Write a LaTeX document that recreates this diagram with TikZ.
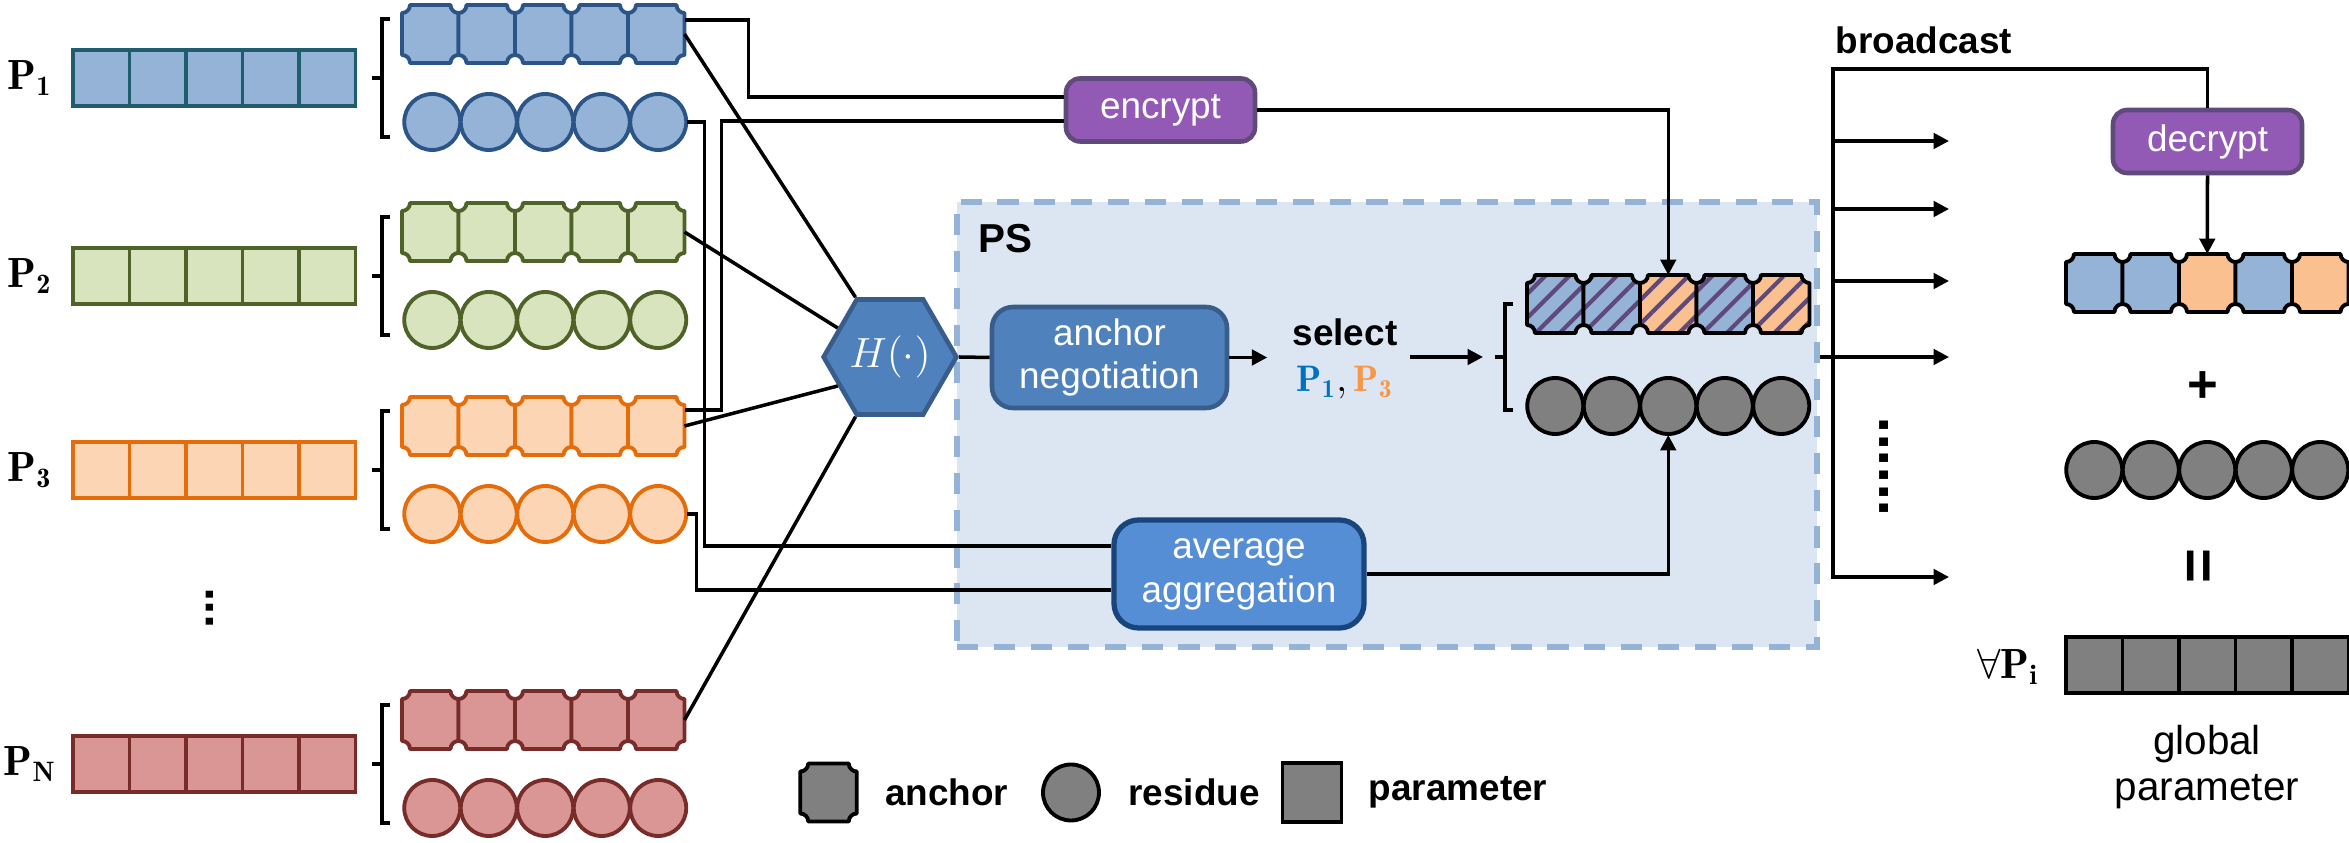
\documentclass[tikz,border=0pt]{standalone}
\usepackage{fontspec}
\setsansfont{Liberation Sans}
\renewcommand{\familydefault}{\sfdefault}
\usetikzlibrary{arrows.meta,shapes.geometric,patterns.meta,positioning}

\definecolor{blueF}{HTML}{95B3D7}
\definecolor{blueD}{HTML}{2B5487}
\definecolor{barD}{HTML}{1F5C6E}
\definecolor{greenF}{HTML}{D7E4BD}
\definecolor{greenD}{HTML}{4F6228}
\definecolor{orangeF}{HTML}{FCD5B5}
\definecolor{orangeD}{HTML}{E46C0A}
\definecolor{orangeR}{HTML}{FAC090}
\definecolor{redF}{HTML}{D99694}
\definecolor{redD}{HTML}{772C2A}
\definecolor{grayF}{HTML}{808080}
\definecolor{purpleF}{HTML}{935AB5}
\definecolor{purpleD}{HTML}{604A7B}
\definecolor{hatchC}{HTML}{5F497A}
\definecolor{negF}{HTML}{4F81BD}
\definecolor{negD}{HTML}{385D8A}
\definecolor{avgF}{HTML}{558ED5}
\definecolor{avgD}{HTML}{17457C}
\definecolor{psF}{HTML}{DCE6F2}
\definecolor{psD}{HTML}{95B3D7}
\definecolor{selB}{HTML}{0070C0}
\definecolor{selO}{HTML}{F79646}

% one anchor cell (square with notched corners), centred at the origin
\newcommand{\anchorshape}{(-0.2025,0.29) -- (0.2025,0.29) arc[start angle=180,end angle=270,radius=0.08]
  -- (0.2825,-0.21) arc[start angle=90,end angle=180,radius=0.08]
  -- (-0.2025,-0.29) arc[start angle=0,end angle=90,radius=0.08]
  -- (-0.2825,0.21) arc[start angle=270,end angle=360,radius=0.08] -- cycle}

% #1 name, #2 left x, #3 y, #4 fills, #5 border, #6 extra style
\newcommand{\anchorrow}[6]{%
  \node[rowbox] (#1) at ({#2+1.4125},#3) {};
  \foreach \col [count=\idx from 0] in {#4}
    \path[cell, draw=#5, preaction={fill=\col}, #6, shift={({#2+0.2825+0.565*\idx},#3)}] \anchorshape;
}
% #1 name, #2 left x, #3 y, #4 fill, #5 border
\newcommand{\circlerow}[5]{%
  \node[rowbox] (#1) at ({#2+1.4125},#3) {};
  \foreach \idx in {0,...,4}
    \node[dot, draw=#5, fill=#4] (#1\idx) at ({#2+0.2825+0.565*\idx},#3) {};
}
\newcommand{\parambar}[5]{%
  \node[rowbox] (#1) at ({#2+1.4125},#3) {};
  \foreach \idx in {0,...,4}
    \node[sq, draw=#5, fill=#4] (#1\idx) at ({#2+0.2825+0.565*\idx},#3) {};
}
% #1 x, #2 middle y, #3 half height
\newcommand{\grpbrace}[3]{%
  \draw[brace] ({#1+0.08},{#2+#3}) -- (#1,{#2+#3}) -- (#1,{#2-#3}) -- ({#1+0.08},{#2-#3})
    (#1,#2) -- ({#1-0.1},#2);
}

\begin{document}
\begin{tikzpicture}[
    >={Triangle[length=4.4pt,width=4.4pt]},
    font=\fontsize{10.5}{12.5}\selectfont,
    % Styles
    wire/.style={line width=1pt},
    cell/.style={line width=1.1pt, line join=round},
    brace/.style={line width=1pt},
    rowbox/.style={rectangle, minimum width=2.825cm, minimum height=0.58cm, inner sep=0pt, outer sep=0pt},
    dot/.style={circle, minimum size=0.56cm, inner sep=0pt, line width=1.1pt},
    sq/.style={rectangle, minimum width=0.565cm, minimum height=0.565cm, inner sep=0pt, line width=1.1pt},
    hatched/.style={pattern={Lines[angle=45,distance=4.8pt,line width=1.2pt]}, pattern color=hatchC},
    psbox/.style={rectangle, fill=psF, draw=psD, line width=1.5pt, dash pattern=on 6pt off 4.5pt,
        minimum width=8.6cm, minimum height=4.45cm, inner sep=0pt},
    cryptbox/.style={rectangle, rounded corners=4pt, fill=purpleF, draw=purpleD, line width=1.3pt,
        text=white, minimum width=1.89cm, minimum height=0.63cm, inner sep=0pt},
    negbox/.style={rectangle, rounded corners=6pt, fill=negF, draw=negD, line width=1.3pt, text=white,
        minimum width=2.35cm, minimum height=1.01cm, align=center, inner sep=0pt},
    avgbox/.style={rectangle, rounded corners=7pt, fill=avgF, draw=avgD, line width=1.5pt, text=white,
        minimum width=2.5cm, minimum height=1.08cm, align=center, inner sep=0pt},
    hexa/.style={regular polygon, regular polygon sides=6, minimum size=1.15cm, inner sep=0pt,
        fill=negF, draw=negD, line width=1.3pt, text=white, font=\large},
    plabel/.style={font=\large},
    boldtext/.style={font=\bfseries\fontsize{10.5}{12.5}\selectfont},
    pstext/.style={font=\bfseries\fontsize{11.5}{13}\selectfont},
    legtext/.style={font=\bfseries\fontsize{10.5}{12.5}\selectfont},
    dotstext/.style={rotate=90, font=\bfseries\fontsize{17}{17}\selectfont}
]
\useasboundingbox (0,0) rectangle (23.49,8.43);

% ---------- PS region ----------
\node[psbox] (ps) at (13.87,4.185) {};
\node[pstext] (pstitle) at (10.05,6.04) {PS};

% ---------- clients ----------
\node[plabel] (l1) at (0.30,7.65) {$\mathbf{P_1}$};
\parambar{p1}{0.73}{7.65}{blueF}{barD}
\grpbrace{3.82}{7.65}{0.59}
\anchorrow{a1}{4.02}{8.09}{blueF,blueF,blueF,blueF,blueF}{blueD}{}
\circlerow{c1}{4.04}{7.21}{blueF}{blueD}

\node[plabel] (l2) at (0.30,5.67) {$\mathbf{P_2}$};
\parambar{p2}{0.73}{5.67}{greenF}{greenD}
\grpbrace{3.82}{5.67}{0.59}
\anchorrow{a2}{4.02}{6.11}{greenF,greenF,greenF,greenF,greenF}{greenD}{}
\circlerow{c2}{4.04}{5.23}{greenF}{greenD}

\node[plabel] (l3) at (0.30,3.73) {$\mathbf{P_3}$};
\parambar{p3}{0.73}{3.73}{orangeF}{orangeD}
\grpbrace{3.82}{3.73}{0.59}
\anchorrow{a3}{4.02}{4.17}{orangeF,orangeF,orangeF,orangeF,orangeF}{orangeD}{}
\circlerow{c3}{4.04}{3.29}{orangeF}{orangeD}

\node[dotstext, font=\bfseries\fontsize{14}{14}\selectfont] (ldots) at (2.10,2.35) {...};

\node[plabel] (lN) at (0.30,0.79) {$\mathbf{P_N}$};
\parambar{pN}{0.73}{0.79}{redF}{redD}
\grpbrace{3.82}{0.79}{0.59}
\anchorrow{aN}{4.02}{1.23}{redF,redF,redF,redF,redF}{redD}{}
\circlerow{cN}{4.04}{0.35}{redF}{redD}

% ---------- processing nodes ----------
\node[hexa] (h) at (8.90,4.86) {$H(\cdot)$};
\node[cryptbox] (enc) at (11.605,7.33) {encrypt};
\node[negbox] (an) at (11.095,4.855) {anchor\\negotiation};
\node[avgbox] (avg) at (12.39,2.69) {average\\aggregation};
\node[align=center, font=\fontsize{10.5}{13}\selectfont] (sel) at (13.45,4.84)
    {\textbf{select}\\${\color{selB}\mathbf{P_1}},{\color{selO}\mathbf{P_3}}$};
\coordinate (rb) at (14.83,4.86);

% selected anchors and residues
\grpbrace{15.05}{4.86}{0.53}
\anchorrow{ra}{15.27}{5.39}{blueF,blueF,orangeR,blueF,orangeR}{black}{hatched}
\circlerow{rc}{15.27}{4.37}{grayF}{black}

% ---------- wires ----------
\draw[wire] (a1.east) -- (h.120);
\draw[wire] (a2.east) -- (h.151);
\draw[wire] (a3.east) -- (h.209);
\draw[wire] (aN.east) -- (h.240);
\draw[wire] ([yshift=1.4mm]a1.east) -- ++(0.64,0) |- ([yshift=1.3mm]enc.west);
\draw[wire] ([yshift=1.6mm]a3.east) -- ++(0.37,0) |- ([yshift=-1.1mm]enc.west);
\draw[wire] (c1.east) -- ++(0.18,0) |- ([yshift=2.8mm]avg.west);
\draw[wire] (c3.east) -- ++(0.10,0) |- ([yshift=-1.6mm]avg.west);
\draw[wire] (h.east) -- (an.west);
\draw[wire,->, shorten >=1.3mm] (an.east) -- (an.east -| sel.west);
\draw[wire,->] (sel.east |- rb) -- (rb);
\draw[wire,->] (enc.east) -| (ra.north);
\draw[wire,->] (avg.east) -| (rc.south);

% ---------- broadcast ----------
\node[boldtext] (bcast) at (19.24,8.03) {broadcast};
\node[cryptbox] (dec) at (22.075,7.015) {decrypt};
\coordinate (btop) at (18.33,7.74);
\coordinate (bbot) at (18.33,2.66);
\coordinate (bo5) at (19.49,2.66);
\draw[wire] (ps.east |- rb) -- (btop |- rb);
\draw[wire,->] (dec.north) |- (btop) -- (bbot) -- (bo5);
\foreach \y [count=\i] in {7.02,6.34,5.62,4.86} {
    \coordinate (bo\i) at (19.49,\y);
    \draw[wire,->] (btop |- bo\i) -- (bo\i);
}
\node[dotstext] (bdots) at (18.84,3.76) {......};

% ---------- global parameter ----------
\anchorrow{fa}{20.66}{5.60}{blueF,blueF,orangeR,blueF,orangeR}{black}{}
\draw[wire,->] (dec.south) -- (fa.north);
\node[font=\bfseries\fontsize{15}{15}\selectfont] (plus) at (22.03,4.56) {+};
\circlerow{fc}{20.66}{3.73}{grayF}{black}
\node[rotate=90, font=\bfseries\fontsize{17}{17}\selectfont] (eq) at (22.03,2.77) {=};
\parambar{fg}{20.66}{1.78}{grayF}{black}
\node[plabel] (fall) at (20.08,1.76) {$\forall\mathbf{P_i}$};
\node[align=center, font=\fontsize{11.5}{13}\selectfont] (gp) at (22.07,0.76) {global\\parameter};

% ---------- legend ----------
\path[cell, draw=black, fill=grayF, shift={(8.285,0.505)}] \anchorshape;
\coordinate (lanc) at (8.5675,0.505);
\node[legtext, right=0.16cm of lanc] (tanc) {anchor};
\node[dot, draw=black, fill=grayF] (lres) at (10.71,0.505) {};
\node[legtext, right=0.15cm of lres] (tres) {residue};
\node[sq, draw=black, fill=grayF, minimum size=0.59cm] (lpar) at (13.12,0.505) {};
\node[legtext, right=0.13cm of lpar] (tpar) {parameter};

\end{tikzpicture}
\end{document}
